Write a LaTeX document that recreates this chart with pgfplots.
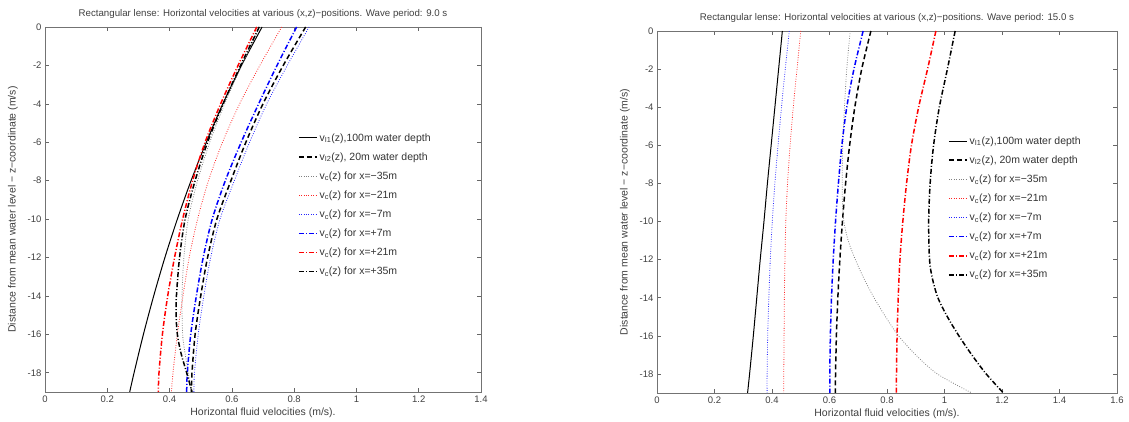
\documentclass[border=0pt]{standalone}
\usepackage{fontspec}
\setmainfont{Liberation Sans}
\usepackage{pgfplots}
\pgfplotsset{compat=1.18}
\newcommand{\fs}{\fontsize{9.7}{10}\selectfont}
\newcommand{\fl}{\fontsize{10.5}{11}\selectfont}
\pgfplotsset{
  mystyle/.style={
    scale only axis,
    xmin=0, ymin=-19, ymax=0,
    ytick={-18,-16,-14,-12,-10,-8,-6,-4,-2,0},
    tick align=inside,
    axis line style={black!55, line width=0.8pt},
    major tick length=4pt,
    tick style={black!60, line width=0.6pt},
    /pgf/number format/assume math mode=true,
    every tick label/.append style={font=\fontsize{9.5}{10}\selectfont, text=black!75},
    title style={font=\fs, text=black!75, at={(axis description cs:0.5,1)}, anchor=center, yshift=7pt},
    xlabel style={font=\fl, text=black!75, at={(axis description cs:0.5,0)}, anchor=center, yshift=-21pt},
    ylabel style={font=\fl, text=black!75, at={([xshift=-32pt]axis description cs:0,0.5)}, anchor=center},
    legend style={draw=none, fill=none, anchor=north west, font=\fl, text=black!80, row sep=6pt},
    legend cell align=left,
    legend image code/.code={\draw[##1] (0pt,0pt) -- (18pt,0pt);},
    xlabel={Horizontal fluid velocities (m/s).},
    ylabel={Distance from mean water level − z−coordinate (m/s)},
    legend entries={{v\textsubscript{I1}(z),100m water depth},{v\textsubscript{I2}(z), 20m water depth},{v\textsubscript{c}(z) for x=−35m},{v\textsubscript{c}(z) for x=−21m},{v\textsubscript{c}(z) for x=−7m},{v\textsubscript{c}(z) for x=+7m},{v\textsubscript{c}(z) for x=+21m},{v\textsubscript{c}(z) for x=+35m}},
  },
  sI1/.style={black, solid, line width=1pt, smooth},
  sI2/.style={black, line width=1.5pt, dash pattern=on 5pt off 3pt, smooth},
  sm35/.style={black!50, line width=0.8pt, dash pattern=on 0.8pt off 1.6pt, smooth},
  sm21/.style={red!85, line width=0.8pt, dash pattern=on 0.8pt off 1.6pt, smooth},
  sm7/.style={blue!85, line width=0.8pt, dash pattern=on 0.8pt off 1.6pt, smooth},
  sp7/.style={blue, line width=1.5pt, dash pattern=on 5pt off 2pt on 1pt off 2pt, smooth},
  sp21/.style={red, line width=1.5pt, dash pattern=on 5pt off 2pt on 1pt off 2pt, smooth},
  sp35/.style={black, line width=1.5pt, dash pattern=on 5pt off 2pt on 1pt off 2pt, smooth},
}
\begin{document}
\begin{tikzpicture}
\path[use as bounding box] (0,0) rectangle (1129pt,422pt);
\begin{axis}[mystyle, at={(45pt,30pt)}, anchor=south west, width=436pt, height=365pt,
  xmax=1.4, xtick={0,0.2,0.4,0.6,0.8,1,1.2,1.4},
  title={Rectangular lense: Horizontal velocities at various (x,z)−positions. Wave period: 9.0 s},
  legend style={at={(0.573,0.72)}}]
\addplot[sI1] coordinates {(0.697,0) (0.631,-2) (0.571,-4) (0.518,-6) (0.469,-8) (0.425,-10) (0.385,-12) (0.349,-14) (0.316,-16) (0.286,-18) (0.272,-19)};
\addplot[sI2] coordinates {(0.837,0) (0.765,-2) (0.700,-4) (0.645,-6) (0.597,-8) (0.552,-10) (0.522,-12) (0.500,-14) (0.482,-16) (0.472,-18) (0.470,-19)};
\addplot[sm35] coordinates {(0.690,0) (0.632,-2) (0.577,-4) (0.529,-6) (0.490,-8) (0.460,-10) (0.446,-12) (0.440,-14) (0.442,-16) (0.450,-17) (0.460,-18) (0.470,-19)};
\addplot[sm21] coordinates {(0.760,0) (0.690,-2) (0.625,-4) (0.570,-6) (0.525,-8) (0.490,-10) (0.463,-12) (0.443,-14) (0.425,-16) (0.411,-18) (0.406,-19)};
\addplot[sm7] coordinates {(0.848,0) (0.778,-2) (0.712,-4) (0.657,-6) (0.608,-8) (0.562,-10) (0.532,-12) (0.510,-14) (0.492,-16) (0.480,-18) (0.478,-19)};
\addplot[sp7] coordinates {(0.808,0) (0.745,-2) (0.686,-4) (0.630,-6) (0.579,-8) (0.537,-10) (0.508,-12) (0.486,-14) (0.468,-16) (0.457,-18) (0.455,-19)};
\addplot[sp21] coordinates {(0.680,0) (0.620,-2) (0.564,-4) (0.514,-6) (0.474,-8) (0.442,-10) (0.416,-12) (0.394,-14) (0.377,-16) (0.366,-18) (0.364,-19)};
\addplot[sp35] coordinates {(0.688,0) (0.628,-2) (0.572,-4) (0.522,-6) (0.482,-8) (0.450,-10) (0.432,-12) (0.422,-14) (0.421,-15) (0.425,-16) (0.437,-17) (0.455,-18) (0.472,-19)};
\end{axis}
\begin{axis}[mystyle, at={(657pt,29pt)}, anchor=south west, width=460pt, height=362pt,
  xmax=1.6, xtick={0,0.2,0.4,0.6,0.8,1,1.2,1.4,1.6},
  title={Rectangular lense: Horizontal velocities at various (x,z)−positions. Wave period: 15.0 s},
  legend style={at={(0.626,0.72)}}]
\addplot[sI1] coordinates {(0.436,0) (0.423,-2) (0.410,-4) (0.397,-6) (0.384,-8) (0.372,-10) (0.359,-12) (0.347,-14) (0.335,-16) (0.322,-18) (0.315,-19)};
\addplot[sI2] coordinates {(0.744,0) (0.712,-2) (0.688,-4) (0.670,-6) (0.656,-8) (0.645,-10) (0.636,-12) (0.629,-14) (0.624,-16) (0.621,-18) (0.620,-19)};
\addplot[sm35] coordinates {(0.672,0) (0.660,-2) (0.652,-4) (0.646,-6) (0.644,-8) (0.645,-9) (0.650,-10) (0.665,-11) (0.690,-12) (0.720,-13) (0.755,-14) (0.795,-15) (0.840,-16) (0.900,-17) (0.975,-18) (1.095,-19)};
\addplot[sm21] coordinates {(0.500,0) (0.487,-2) (0.474,-4) (0.463,-6) (0.454,-8) (0.448,-10) (0.445,-12) (0.443,-14) (0.442,-16) (0.441,-18) (0.441,-19)};
\addplot[sm7] coordinates {(0.460,0) (0.446,-2) (0.433,-4) (0.421,-6) (0.410,-8) (0.401,-10) (0.394,-12) (0.389,-14) (0.385,-16) (0.383,-18) (0.383,-19)};
\addplot[sp7] coordinates {(0.717,0) (0.685,-2) (0.660,-4) (0.643,-6) (0.631,-8) (0.621,-10) (0.613,-12) (0.607,-14) (0.603,-16) (0.601,-18) (0.601,-19)};
\addplot[sp21] coordinates {(0.970,0) (0.941,-2) (0.910,-4) (0.885,-6) (0.868,-8) (0.855,-10) (0.845,-12) (0.839,-14) (0.835,-16) (0.833,-18) (0.833,-19)};
\addplot[sp35] coordinates {(1.037,0) (1.010,-2) (0.982,-4) (0.962,-6) (0.950,-8) (0.945,-10) (0.948,-12) (0.958,-13) (0.977,-14) (1.010,-15) (1.050,-16) (1.095,-17) (1.145,-18) (1.205,-19)};
\end{axis}
\end{tikzpicture}
\end{document}
